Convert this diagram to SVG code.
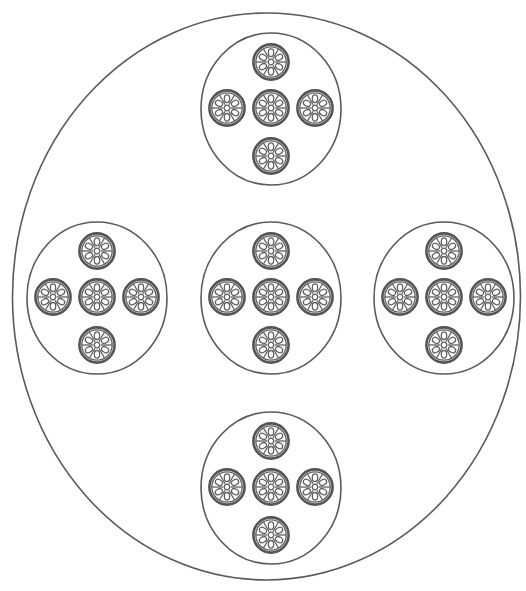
<svg xmlns="http://www.w3.org/2000/svg" xmlns:xlink="http://www.w3.org/1999/xlink" width="526" height="591" viewBox="0 0 526 591">
<style>
.ln{fill:none;stroke:#5a5a5a;stroke-width:1.6}
.thin{fill:none;stroke:#606060;stroke-width:1.3}
.rim{fill:none;stroke:#555;stroke-width:2.6}
</style>
<defs>
<g id="strand">
<circle class="rim" r="17.6"/>
<circle class="thin" r="15.2"/>
<circle class="thin" r="2.8"/>
<g class="thin">
<ellipse cx="0" cy="-9.3" rx="2.7" ry="3.8"/>
<ellipse cx="0" cy="-9.3" rx="2.7" ry="3.8" transform="rotate(60)"/>
<ellipse cx="0" cy="-9.3" rx="2.7" ry="3.8" transform="rotate(120)"/>
<ellipse cx="0" cy="-9.3" rx="2.7" ry="3.8" transform="rotate(180)"/>
<ellipse cx="0" cy="-9.3" rx="2.7" ry="3.8" transform="rotate(240)"/>
<ellipse cx="0" cy="-9.3" rx="2.7" ry="3.8" transform="rotate(300)"/>
<line x1="0" y1="-3.8" x2="0" y2="-15" transform="rotate(30)"/>
<line x1="0" y1="-3.8" x2="0" y2="-15" transform="rotate(90)"/>
<line x1="0" y1="-3.8" x2="0" y2="-15" transform="rotate(150)"/>
<line x1="0" y1="-3.8" x2="0" y2="-15" transform="rotate(210)"/>
<line x1="0" y1="-3.8" x2="0" y2="-15" transform="rotate(270)"/>
<line x1="0" y1="-3.8" x2="0" y2="-15" transform="rotate(330)"/>
</g>
</g>
<g id="bundle">
<ellipse class="ln" rx="70" ry="76"/>
<use xlink:href="#strand" x="0" y="-1"/>
<use xlink:href="#strand" x="0" y="-47"/>
<use xlink:href="#strand" x="0" y="47"/>
<use xlink:href="#strand" x="-44" y="-1"/>
<use xlink:href="#strand" x="44" y="-1"/>
</g>
</defs>
<rect width="526" height="591" fill="#fff"/>
<g id="cable">
<ellipse class="ln" cx="266.5" cy="296.5" rx="254" ry="283.5"/>
</g>
<g id="bundle-top"><use xlink:href="#bundle" x="271" y="109"/></g>
<g id="bundle-left"><use xlink:href="#bundle" x="97" y="298"/></g>
<g id="bundle-center"><use xlink:href="#bundle" x="271" y="298"/></g>
<g id="bundle-right"><use xlink:href="#bundle" x="444" y="298"/></g>
<g id="bundle-bottom"><use xlink:href="#bundle" x="271" y="488"/></g>
</svg>
